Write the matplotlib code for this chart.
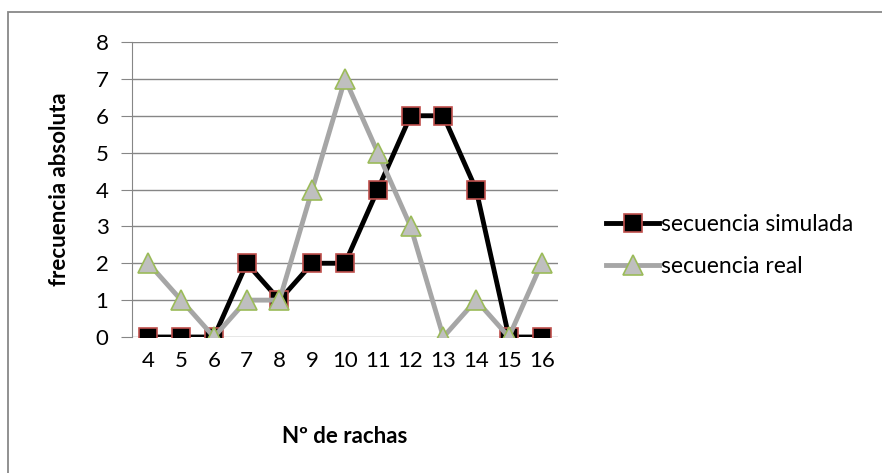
import matplotlib.pyplot as plt
from matplotlib.patches import Rectangle

plt.rcParams['font.family'] = ['Lato', 'DejaVu Sans']

rachas = [4, 5, 6, 7, 8, 9, 10, 11, 12, 13, 14, 15, 16]
simulada = [0, 0, 0, 2, 1, 2, 2, 4, 6, 6, 4, 0, 0]
real = [2, 1, 0, 1, 1, 4, 7, 5, 3, 0, 1, 0, 2]
y_ticks = [0, 1, 2, 3, 4, 5, 6, 7, 8]

fig = plt.figure(figsize=(8.82, 4.73), dpi=100)
ax = fig.add_axes([0.1497, 0.2875, 0.4830, 0.6237])

# outer chart frame (right and bottom edges fall outside the image)
fig.patches.append(Rectangle((8 / 882, -0.1), 1.2, 1 - 12 / 473 + 0.1,
                             transform=fig.transFigure, fill=False,
                             edgecolor='#888888', linewidth=1.3))

ax.plot(rachas, simulada, color='black', linewidth=3.5, marker='s',
        markersize=13, markerfacecolor='black', markeredgecolor='#c0504d',
        markeredgewidth=1.2, label='secuencia simulada', zorder=3)
ax.plot(rachas, real, color='#a6a6a6', linewidth=3.5, marker='^',
        markersize=14, markerfacecolor='#bfbfbf', markeredgecolor='#9bbb59',
        markeredgewidth=1.2, label='secuencia real', zorder=4)

ax.set_xlim(3.5, 16.5)
ax.set_ylim(0, 8)
ax.set_xticks(rachas)
ax.set_yticks(y_ticks)
ax.grid(axis='y', color='#868686', linewidth=1.0)
ax.set_axisbelow(True)
for side in ['top', 'right', 'bottom']:
    ax.spines[side].set_visible(False)
ax.spines['left'].set_color('#868686')
ax.tick_params(axis='y', length=8, color='#868686', labelsize=16, pad=9)
ax.tick_params(axis='x', length=0, labelsize=16, pad=10)

ax.set_xlabel('Nº de rachas', fontsize=16, fontweight='bold', labelpad=40)
ax.set_ylabel('frecuencia absoluta', fontsize=16, fontweight='bold', labelpad=18)

ax.legend(loc='center left', bbox_to_anchor=(1.065, 0.31), frameon=False,
          fontsize=16.5, handlelength=2.3, labelspacing=0.9, handletextpad=0.1)
ax.patch.set_alpha(0)

fig.savefig('out.png', dpi=100)
